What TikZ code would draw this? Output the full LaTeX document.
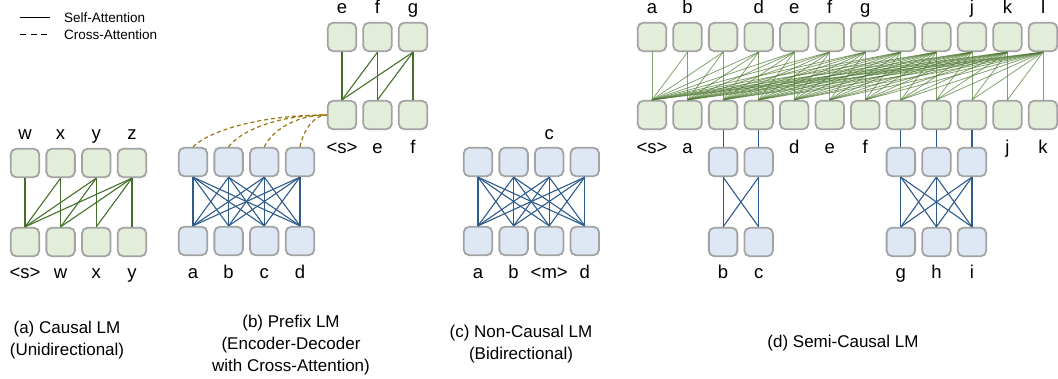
\documentclass[tikz,border=0pt]{standalone}
\usepackage{fontspec}
\setmainfont{Liberation Sans}
\definecolor{gfill}{HTML}{E2EED9}
\definecolor{bfill}{HTML}{DDE8F4}
\definecolor{boxline}{HTML}{A3A3A3}
\definecolor{gline}{HTML}{45702A}
\definecolor{glight}{HTML}{4F7A33}
\definecolor{bline}{HTML}{2D5C8C}
\definecolor{xline}{HTML}{9A7614}
\begin{document}
\begin{tikzpicture}[x=1pt,y=-1pt,
  tok/.style={draw=boxline, line width=1.8pt, rounded corners=5.5pt,
    minimum width=28.5pt, minimum height=28.5pt, inner sep=0pt},
  gtok/.style={tok, fill=gfill},
  btok/.style={tok, fill=bfill},
  lbl/.style={font=\fontsize{18.5}{22}\selectfont, inner sep=0pt, anchor=base},
  sa/.style={draw=gline, line width=1.1pt},
  sad/.style={draw=glight, line width=0.8pt, opacity=0.7},
  enc/.style={draw=bline, line width=1.1pt},
  xa/.style={draw=xline, line width=1.2pt, dash pattern=on 4pt off 3pt},
  captxt/.style={font=\fontsize{17}{22}\selectfont, align=center, inner sep=0pt},
  leg/.style={font=\fontsize{13.5}{16}\selectfont, anchor=west, inner sep=0pt}
]
\useasboundingbox (0,0) rectangle (1058,379);

% legend
\coordinate (lsA) at (20,18);
\coordinate (lsB) at (50,18);
\coordinate (lcA) at (20,35);
\coordinate (lcB) at (50,35);
\draw[line width=1pt] (lsA) -- (lsB);
\draw[line width=1pt, dash pattern=on 6pt off 4.5pt] (lcA) -- (lcB);
\node[leg] (legSA) at (64,18) {Self-Attention};
\node[leg] (legCA) at (64,35) {Cross-Attention};

% (a) causal LM
\foreach \i/\x in {1/25,2/60.6,3/96.3,4/132} {
  \node[gtok] (aT\i) at (\x,163) {};
  \node[gtok] (aB\i) at (\x,242) {};
}
\foreach \t in {1,...,4}
  \foreach \b in {1,...,\t}
    \draw[sa] (aB\b.north) -- (aT\t.south);
\foreach \i/\s in {1/w,2/x,3/y,4/z}
  \node[lbl] (aTl\i) at (aT\i |- 0,140) {\s};
\foreach \i/\s in {1/{<s>},2/w,3/x,4/y}
  \node[lbl] (aBl\i) at (aB\i |- 0,279) {\s};

% (b) prefix LM: encoder
\foreach \i/\x in {1/193,2/228.6,3/264.3,4/300} {
  \node[btok] (ebT\i) at (\x,162) {};
  \node[btok] (ebB\i) at (\x,241) {};
}
\foreach \t in {1,...,4}
  \foreach \b in {1,...,4}
    \draw[enc] (ebB\b.north) -- (ebT\t.south);
\foreach \i/\s in {1/a,2/b,3/c,4/d}
  \node[lbl] (ebBl\i) at (ebB\i |- 0,279) {\s};

% (b) prefix LM: decoder
\foreach \i/\x in {1/342,2/377.5,3/413} {
  \node[gtok] (dbT\i) at (\x,37) {};
  \node[gtok] (dbB\i) at (\x,115) {};
}
\foreach \t in {1,...,3}
  \foreach \b in {1,...,\t}
    \draw[sa] (dbB\b.north) -- (dbT\t.south);
\foreach \i/\s in {1/e,2/f,3/g}
  \node[lbl] (dbTl\i) at (dbT\i |- 0,14) {\s};
\foreach \i/\s in {1/{<s>},2/e,3/f}
  \node[lbl] (dbBl\i) at (dbB\i |- 0,154) {\s};

% cross-attention from the encoder outputs
\foreach \i/\d in {1/134,2/99,3/63,4/27}
  \draw[xa] (ebT\i.north) .. controls +(0.12*\d,-16) and +(-0.5*\d,0) .. (dbB1.west);

% (c) non-causal LM
\foreach \i/\x in {1/478,2/513.6,3/549.2,4/584.8} {
  \node[btok] (cT\i) at (\x,162) {};
  \node[btok] (cB\i) at (\x,241) {};
}
\foreach \t in {1,...,4}
  \foreach \b in {1,...,4}
    \draw[enc] (cB\b.north) -- (cT\t.south);
\node[lbl] (cTl3) at (cT3 |- 0,140) {c};
\foreach \i/\s in {1/a,2/b,3/{<m>},4/d}
  \node[lbl] (cBl\i) at (cB\i |- 0,279) {\s};

% (d) semi-causal LM: decoder rows
\foreach \i in {1,...,12} {
  \pgfmathsetmacro{\xx}{652+35.55*(\i-1)}
  \node[gtok] (dT\i) at (\xx,37) {};
  \node[gtok] (dB\i) at (\xx,115) {};
}
\foreach \t in {1,...,12}
  \foreach \b in {1,...,\t}
    \draw[sad] (dB\b.north) -- (dT\t.south);
\foreach \i/\s in {1/a,2/b,4/d,5/e,6/f,7/g,10/j,11/k,12/l}
  \node[lbl] (dTl\i) at (dT\i |- 0,14) {\s};
\foreach \i/\s in {1/{<s>},2/a,5/d,6/e,7/f,11/j,12/k}
  \node[lbl] (dBl\i) at (dB\i |- 0,154) {\s};

% (d) bidirectional encoder spans
\foreach \i/\j in {1/3,2/4} {
  \node[btok] (sAT\i) at (dB\j |- 0,162) {};
  \node[btok] (sAB\i) at (dB\j |- 0,242) {};
  \draw[enc] (sAT\i.north) -- (dB\j.south);
}
\foreach \t in {1,2}
  \foreach \b in {1,2}
    \draw[enc] (sAB\b.north) -- (sAT\t.south);
\foreach \i/\s in {1/b,2/c}
  \node[lbl] (sABl\i) at (sAB\i |- 0,279) {\s};

\foreach \i/\j in {1/8,2/9,3/10} {
  \node[btok] (sBT\i) at (dB\j |- 0,162) {};
  \node[btok] (sBB\i) at (dB\j |- 0,242) {};
  \draw[enc] (sBT\i.north) -- (dB\j.south);
}
\foreach \t in {1,2,3}
  \foreach \b in {1,2,3}
    \draw[enc] (sBB\b.north) -- (sBT\t.south);
\foreach \i/\s in {1/g,2/h,3/i}
  \node[lbl] (sBBl\i) at (sBB\i |- 0,279) {\s};

% captions
\node[captxt] (capA) at (67,340) {(a) Causal LM\\(Unidirectional)};
\node[captxt] (capB) at (291,345) {(b) Prefix LM\\(Encoder-Decoder\\with Cross-Attention)};
\node[captxt] (capC) at (521,344) {(c) Non-Causal LM\\(Bidirectional)};
\node[captxt] (capD) at (843,343) {(d) Semi-Causal LM};
\end{tikzpicture}
\end{document}
